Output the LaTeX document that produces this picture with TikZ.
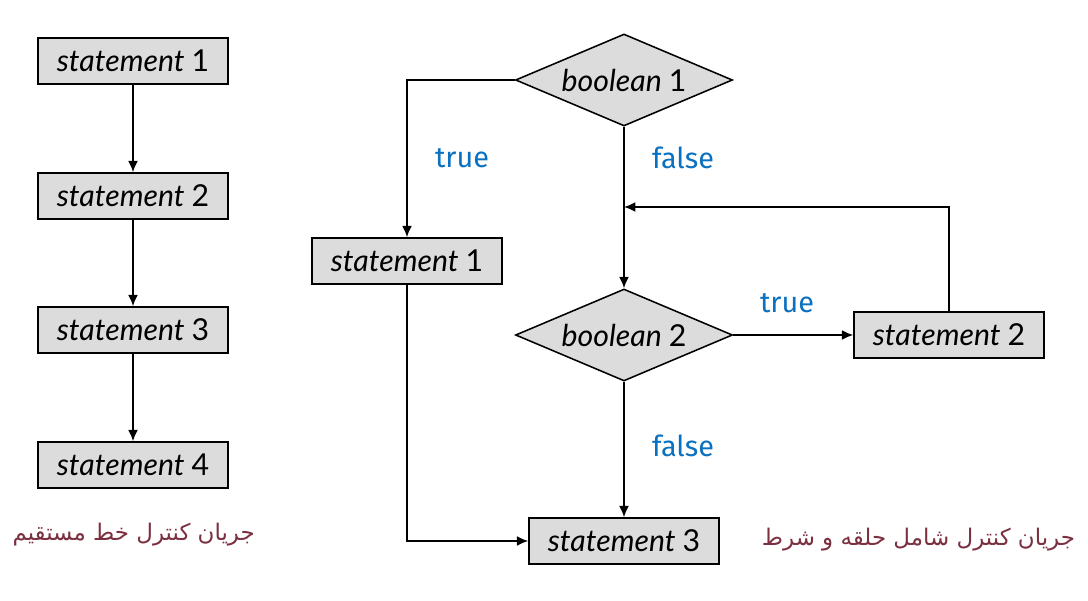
\documentclass[tikz,border=0pt]{standalone}
\usepackage{fontspec}
\setmainfont{Lato}
\newfontfamily\labelfont{Fira Sans}
\newfontfamily\farsifont[Script=Arabic]{DejaVu Sans}
\TeXXeTstate=1
\usetikzlibrary{shapes.geometric,arrows.meta}
\definecolor{boxgray}{HTML}{DCDCDC}
\definecolor{labelblue}{HTML}{0A70C0}
\definecolor{captionred}{HTML}{7B3040}
\begin{document}
\begin{tikzpicture}[line width=1.1pt,
    stmt/.style = {draw, fill=boxgray, minimum width=4.75cm, minimum height=1.15cm, inner sep=0pt, font=\fontsize{21.5}{24}\selectfont},
    cond/.style = {draw, fill=boxgray, diamond, shape aspect=2.36, minimum width=5.425cm, minimum height=2.3cm, inner sep=0pt, font=\fontsize{21.5}{24}\selectfont},
    tf/.style = {text=labelblue, font=\labelfont\fontsize{20.5}{24}\selectfont},
    caption/.style = {text=captionred, font=\farsifont\fontsize{16.3}{20}\selectfont},
    flow/.style = {-{Latex[length=8pt,width=7pt]}}]
                  \useasboundingbox (0,0) rectangle (27.2,15);
                  % straight line flow
                  \node[stmt] (ls1) at (3.325,13.475) {\itshape statement \upshape 1};
                  \node[stmt] (ls2) at (3.325,10.1) {\itshape statement \upshape 2};
                  \node[stmt] (ls3) at (3.325,6.75) {\itshape statement \upshape 3};
                  \node[stmt] (ls4) at (3.325,3.375) {\itshape statement \upshape 4};
                  \draw[flow] (ls1) -- (ls2);
                  \draw[flow] (ls2) -- (ls3);
                  \draw[flow] (ls3) -- (ls4);
                  \node[caption] (lcap) at (3.34,1.625) {\beginR جریان کنترل خط مستقیم\endR};
                  % loop and condition flow
                  \node[cond] (b1) at (15.6,13.0) {\itshape boolean \upshape 1};
                  \node[stmt] (rs1) at (10.175,8.475) {\itshape statement \upshape 1};
                  \node[cond] (b2) at (15.6,6.625) {\itshape boolean \upshape 2};
                  \node[stmt] (rs2) at (23.725,6.625) {\itshape statement \upshape 2};
                  \node[stmt] (rs3) at (15.6,1.475) {\itshape statement \upshape 3};
                  \coordinate (join) at (15.6,9.825);
                  \draw[flow] (b1.west) -| (rs1.north);
                  \draw[flow] (b1.south) -- (b2.north);
                  \draw[flow] (b2.east) -- (rs2.west);
                  \draw[flow] (rs2.north) |- (join);
                  \draw[flow] (b2.south) -- (rs3.north);
                  \draw[flow] (rs1.south) |- (rs3.west);
                  \node[tf] (t1) at (11.55,11.05) {true};
                  \node[tf] (f1) at (17.075,11.05) {false};
                  \node[tf] (t2) at (19.675,7.425) {true};
                  \node[tf] (f2) at (17.075,3.85) {false};
                  \node[caption] (rcap) at (22.96,1.5) {\beginR جریان کنترل شامل حلقه و شرط\endR};
              \end{tikzpicture}
\end{document}
